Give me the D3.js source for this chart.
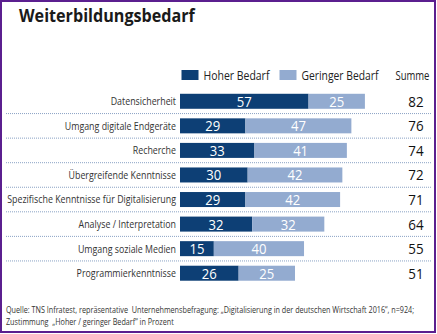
<!DOCTYPE html>
<html><head><meta charset="utf-8">
<script src="https://cdn.jsdelivr.net/npm/d3@7"></script>
<style>
html,body{margin:0;padding:0;background:#fff;}
svg{display:block;}
</style></head>
<body>
<svg id="c" width="437" height="334"></svg>
<script>
const categories = ["Datensicherheit","Umgang digitale Endgeräte","Recherche","Übergreifende Kenntnisse","Spezifische Kenntnisse für Digitalisierung","Analyse / Interpretation","Umgang soziale Medien","Programmierkenntnisse"];
const hoher = [57,29,33,30,29,32,15,26];
const geringer = [25,47,41,42,42,32,40,25];
const summe = [82,76,74,72,71,64,55,51];
const seriesNames = ["Hoher Bedarf","Geringer Bedarf"];
const sumLabel = "Summe";
const title = "Weiterbildungsbedarf";
const source1 = "Quelle: TNS Infratest, repräsentative  Unternehmensbefragung: „Digitalisierung in der deutschen Wirtschaft 2016“, n=924;";
const source2 = "Zustimmung  „Hoher / geringer Bedarf“ in Prozent";

const dark = "#0d3f75", light = "#93abd0";
const font = "'Open Sans',sans-serif";
const svg = d3.select("#c");
svg.append("rect").attr("x",1).attr("y",1).attr("width",434).attr("height",331)
  .attr("fill","#fff").attr("stroke","#5b1f8f").attr("stroke-width",2);

// horizontal condense helper: scale text around its anchor x
function condense(sel, f){
  sel.each(function(){
    const t = d3.select(this);
    const ax = +t.attr("x");
    t.attr("transform",`translate(${ax},0) scale(${f},1) translate(${-ax},0)`);
  });
}
function factorFor(sel, target){
  let w = 0; sel.each(function(){ w = Math.max(w, this.getComputedTextLength()); });
  return target / w;
}

const tt = svg.append("text").attr("x",19).attr("y",22).text(title)
  .attr("font-family",font).attr("font-weight",700).attr("font-size",17.5).attr("fill","#1a1a1a");
condense(tt, factorFor(tt,176));

const x = d3.scaleLinear().domain([0,100]).range([180,180+225.5]);
const y = d3.scaleBand().domain(categories).range([89,285.5]).padding(0);
const bh = 15;

// legend
const lg = [{n:seriesNames[0],c:dark,x:181.5,w:66},{n:seriesNames[1],c:light,x:279.5,w:77}];
lg.forEach(l=>{
  svg.append("rect").attr("x",l.x).attr("y",70).attr("width",17).attr("height",10).attr("fill",l.c);
  const t = svg.append("text").attr("x",l.x+22).attr("y",80).text(l.n).attr("font-family",font).attr("font-size",12).attr("fill","#222");
  condense(t, factorFor(t,l.w));
});
const st = svg.append("text").attr("x",395.5).attr("y",80).text(sumLabel).attr("font-family",font).attr("font-size",12).attr("fill","#222");
condense(st, factorFor(st,34));

// separators
svg.selectAll("line.sep").data(categories.slice(0,-1)).join("line")
  .attr("x1",6).attr("x2",432).attr("y1",d=>y(d)+y.bandwidth()).attr("y2",d=>y(d)+y.bandwidth())
  .attr("stroke","#8aa2c4").attr("stroke-width",1).attr("stroke-dasharray","1,1");

const rows = categories.map((c,i)=>({c,h:hoher[i],g:geringer[i],s:summe[i]}));
const g = svg.selectAll("g.row").data(rows).join("g").attr("transform",d=>`translate(0,${y(d.c)+(y.bandwidth()-bh)/2})`);
const lab = g.append("text").attr("x",176).attr("y",bh/2).attr("dy","0.36em").attr("text-anchor","end")
  .text(d=>d.c).attr("font-family",font).attr("font-size",10.8).attr("fill","#333");
condense(lab, factorFor(lab,169));
g.append("rect").attr("x",x(0)).attr("width",d=>x(d.h)-x(0)).attr("height",bh).attr("fill",dark);
g.append("rect").attr("x",d=>x(d.h)).attr("width",d=>x(d.h+d.g)-x(d.h)).attr("height",bh).attr("fill",light);
const n1 = g.append("text").attr("x",d=>(x(0)+x(d.h))/2).attr("y",bh/2).attr("dy","0.36em").attr("text-anchor","middle")
  .text(d=>d.h).attr("font-family",font).attr("font-size",15).attr("fill","#fff");
const n2 = g.append("text").attr("x",d=>(x(d.h)+x(d.h+d.g))/2).attr("y",bh/2).attr("dy","0.36em").attr("text-anchor","middle")
  .text(d=>d.g).attr("font-family",font).attr("font-size",15).attr("fill","#fff");
const nf = factorFor(n1.filter((d,i)=>i===0),15);
condense(n1,nf); condense(n2,nf);
const n3 = g.append("text").attr("x",416).attr("y",bh/2).attr("dy","0.36em").attr("text-anchor","middle")
  .text(d=>d.s).attr("font-family",font).attr("font-size",15).attr("fill","#111");
condense(n3, nf*1.02);

const s1 = svg.append("text").attr("x",6).attr("y",313).text(source1).attr("font-family",font).attr("font-size",8.6).attr("fill","#333").attr("xml:space","preserve");
const sf = factorFor(s1,408);
condense(s1,sf);
const s2 = svg.append("text").attr("x",6).attr("y",325.5).text(source2).attr("font-family",font).attr("font-size",8.6).attr("fill","#333").attr("xml:space","preserve");
condense(s2,sf);
</script>
</body></html>
